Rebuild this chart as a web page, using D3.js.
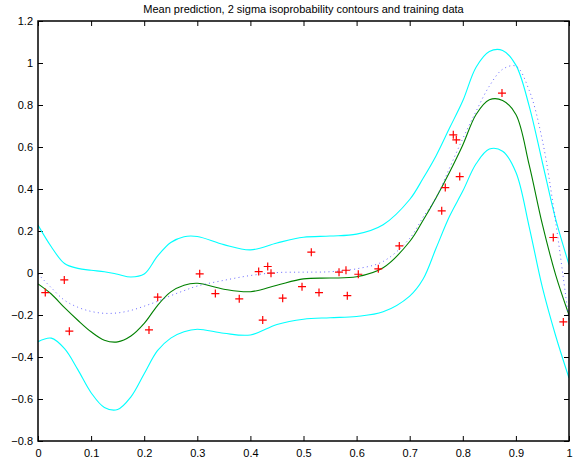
<!DOCTYPE html>
<html>
<head>
<meta charset="utf-8">
<script src="https://cdn.jsdelivr.net/npm/d3@7"></script>
<style>
  html, body { margin: 0; padding: 0; background: #fff; }
  #chart { width: 573px; height: 460px; }
  text { font-family: "Liberation Sans", Arial, Helvetica, sans-serif; }
</style>
</head>
<body>
<div id="chart"></div>
<script>
// values
const gridX = [0, 0.025, 0.05, 0.075, 0.1, 0.125, 0.15, 0.175, 0.2, 0.225, 0.25, 0.275, 0.3,
  0.35, 0.4, 0.45, 0.5, 0.55, 0.6, 0.65, 0.7, 0.725, 0.75, 0.775, 0.8, 0.825, 0.85, 0.875,
  0.9, 0.925, 0.95, 0.975, 1.0];

const upperBand = [0.228, 0.125, 0.045, 0.022, 0.013, 0.006, -0.006, -0.019, -0.005, 0.080, 0.145, 0.173, 0.174,
  0.135, 0.110, 0.143, 0.170, 0.176, 0.185, 0.230, 0.350, 0.450, 0.560, 0.690, 0.820, 0.980, 1.055, 1.060,
  0.990, 0.795, 0.525, 0.255, 0.040];

const lowerBand = [-0.327, -0.310, -0.360, -0.460, -0.570, -0.640, -0.650, -0.590, -0.480, -0.370, -0.310, -0.280, -0.268,
  -0.287, -0.295, -0.245, -0.220, -0.213, -0.207, -0.185, -0.110, -0.030, 0.120, 0.270, 0.390, 0.520, 0.590, 0.580,
  0.480, 0.220, -0.070, -0.300, -0.500];

const meanPred = [-0.052, -0.100, -0.165, -0.225, -0.280, -0.320, -0.328, -0.300, -0.240, -0.155, -0.090, -0.058, -0.049,
  -0.077, -0.089, -0.058, -0.028, -0.024, -0.018, 0.025, 0.150, 0.250, 0.360, 0.480, 0.610, 0.755, 0.825, 0.822,
  0.755, 0.515, 0.230, -0.010, -0.200];

const trueFunc = [-0.005, -0.070, -0.130, -0.163, -0.183, -0.192, -0.190, -0.178, -0.158, -0.135, -0.108, -0.084, -0.062,
  -0.035, -0.012, 0.002, 0.004, 0.006, 0.020, 0.055, 0.165, 0.265, 0.360, 0.500, 0.640, 0.770, 0.890, 0.970,
  0.985, 0.870, 0.630, 0.240, -0.230];

const trainX = [0.0137, 0.0495, 0.059, 0.209, 0.2254, 0.3045, 0.334, 0.379, 0.4156, 0.4326, 0.4388, 0.4232,
  0.4608, 0.4972, 0.5147, 0.5292, 0.5669, 0.58, 0.5825, 0.6032, 0.6409, 0.6804, 0.7603, 0.767, 0.7942,
  0.7821, 0.7878, 0.8738, 0.9704, 0.9893];
const trainY = [-0.093, -0.033, -0.277, -0.271, -0.115, -0.004, -0.098, -0.123, 0.007, 0.031, -0.001, -0.224,
  -0.120, -0.065, 0.099, -0.093, 0.004, 0.013, -0.108, -0.006, 0.020, 0.129, 0.296, 0.407, 0.459,
  0.658, 0.634, 0.857, 0.169, -0.233];

const xTicks = [0, 0.1, 0.2, 0.3, 0.4, 0.5, 0.6, 0.7, 0.8, 0.9, 1];
const yTicks = [-0.8, -0.6, -0.4, -0.2, 0, 0.2, 0.4, 0.6, 0.8, 1, 1.2];

const titleText = "Mean prediction, 2 sigma isoprobability contours and training data";

const GPChart = {
  width: 573,
  height: 460,
  margin: { top: 21, right: 4, bottom: 19, left: 38 },

  draw(containerId) {
    const { margin } = this;
    const w = this.width - margin.left - margin.right;
    const h = this.height - margin.top - margin.bottom;

    const svg = d3.select(`#${containerId}`).append("svg")
      .attr("width", this.width)
      .attr("height", this.height);

    const x = d3.scaleLinear().domain([0, 1]).range([0, w]);
    const y = d3.scaleLinear().domain([-0.8, 1.2]).range([h, 0]);
    const fmt = d3.format("~g");

    svg.append("defs").append("clipPath").attr("id", "plot-clip")
      .append("rect").attr("width", w).attr("height", h);

    const g = svg.append("g")
      .attr("transform", `translate(${margin.left},${margin.top})`);

    // Axes: inward ticks on all four sides
    const tickLen = 5;
    const styleAxis = sel => {
      sel.select(".domain").remove();
      sel.selectAll(".tick line").attr("stroke", "#000").attr("stroke-width", 1);
      sel.selectAll(".tick text")
        .attr("fill", "#000").attr("font-size", 11);
    };

    g.append("g")
      .attr("transform", `translate(0,${h})`)
      .call(d3.axisBottom(x).tickValues(xTicks).tickFormat(fmt).tickSizeInner(-tickLen).tickSizeOuter(0).tickPadding(8))
      .call(styleAxis);
    g.append("g")
      .call(d3.axisTop(x).tickValues(xTicks).tickFormat("").tickSizeInner(-tickLen).tickSizeOuter(0))
      .call(styleAxis);
    g.append("g")
      .call(d3.axisLeft(y).tickValues(yTicks).tickFormat(fmt).tickSizeInner(-tickLen).tickSizeOuter(0).tickPadding(5))
      .call(styleAxis);
    g.append("g")
      .attr("transform", `translate(${w},0)`)
      .call(d3.axisRight(y).tickValues(yTicks).tickFormat("").tickSizeInner(-tickLen).tickSizeOuter(0))
      .call(styleAxis);

    // Curves
    const plot = g.append("g").attr("clip-path", "url(#plot-clip)");
    const line = vals => d3.line()
      .x((d, i) => x(gridX[i]))
      .y(d => y(d))
      .curve(d3.curveCatmullRom.alpha(0.5))(vals);

    plot.append("path").attr("d", line(upperBand))
      .attr("fill", "none").attr("stroke", "#00ffff").attr("stroke-width", 1.1);
    plot.append("path").attr("d", line(lowerBand))
      .attr("fill", "none").attr("stroke", "#00ffff").attr("stroke-width", 1.1);
    plot.append("path").attr("d", line(meanPred))
      .attr("fill", "none").attr("stroke", "#008000").attr("stroke-width", 1.1);
    plot.append("path").attr("d", line(trueFunc))
      .attr("fill", "none").attr("stroke", "#3333ff").attr("stroke-width", 1)
      .attr("stroke-dasharray", "1,3.3").attr("opacity", 0.75);

    // Training data as red plus markers
    const s = 4;
    const train = trainX.map((v, i) => [v, trainY[i]]);
    plot.append("g").selectAll("path")
      .data(train)
      .join("path")
      .attr("d", d => {
        const cx = x(d[0]), cy = y(d[1]);
        return `M${cx - s},${cy}H${cx + s}M${cx},${cy - s}V${cy + s}`;
      })
      .attr("stroke", "#ff0000").attr("stroke-width", 1.2).attr("fill", "none");

    // Box
    g.append("rect")
      .attr("width", w).attr("height", h)
      .attr("fill", "none").attr("stroke", "#000").attr("stroke-width", 1.5);

    // Title
    svg.append("text")
      .attr("x", margin.left + w / 2).attr("y", 13)
      .attr("text-anchor", "middle").attr("font-size", 11).attr("fill", "#000")
      .text(titleText);
  },
};

GPChart.draw("chart");
</script>
</body>
</html>
